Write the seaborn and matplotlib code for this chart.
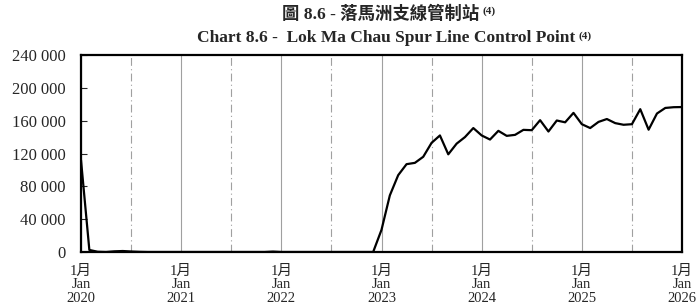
import matplotlib
matplotlib.use("Agg")
import matplotlib.pyplot as plt
import matplotlib.ticker as mticker
import numpy as np
import pandas as pd
import seaborn as sns

# monthly passenger trips, Jan 2020 .. Jan 2026
y2020 = [112000, 2500, 300, 0, 800, 1200, 600, 200, 0, 0, 0, 0]
y2021 = [0, 0, 0, 0, 0, 0, 0, 0, 0, 0, 0, 500]
y2022 = [0, 0, 0, 0, 0, 0, 0, 0, 0, 0, 0, 0]
y2023 = [27000, 69000, 93600, 107000, 108600, 116000, 133000, 142000, 119000, 132000, 140000, 151000]
y2024 = [142000, 137000, 147600, 141500, 142700, 148800, 148400, 160600, 146800, 160200, 158000, 169500]
y2025 = [155700, 151000, 158500, 162000, 157000, 155000, 155700, 174000, 149000, 168700, 175500, 176400]
y2026 = [176600]

years = ["2020", "2021", "2022", "2023", "2024", "2025", "2026"]
tick_labels = ["1月\nJan\n" + y for y in years]

values = y2020 + y2021 + y2022 + y2023 + y2024 + y2025 + y2026
df = pd.DataFrame({"month": np.arange(len(values)), "trips": values})

sns.set_style("white")
plt.rcParams['font.family'] = ['Liberation Serif', 'Noto Sans CJK TC', 'DejaVu Sans']

fig = plt.figure(figsize=(6.99, 3.04), dpi=100)
ax = fig.add_axes([81/699, 1-252/304, (682-81)/699, (252-55)/304])

sns.lineplot(data=df, x="month", y="trips", color="black", linewidth=1.6, ax=ax)

ax.set_xlim(0, 72)
ax.set_ylim(0, 240000)
ax.set_yticks(np.arange(0, 240001, 40000))
ax.yaxis.set_major_formatter(mticker.FuncFormatter(lambda v, p: f"{int(v):,}".replace(",", " ")))
ax.set_xticks(np.arange(0, 73, 12))
ax.set_xticklabels(tick_labels, linespacing=1.05)
ax.xaxis.set_minor_locator(mticker.FixedLocator(np.arange(6, 72, 12)))

ax.grid(True, which="major", axis="x", color="#a0a0a0", linewidth=0.8)
ax.grid(True, which="minor", axis="x", color="#a0a0a0", linewidth=0.8, linestyle=(0, (7, 3, 1, 3)))
ax.set_axisbelow(True)

ax.tick_params(axis="y", direction="in", length=4, width=0.8, labelsize=12, pad=11, left=True)
ax.tick_params(axis="x", which="both", length=0, labelsize=10.5, pad=9)
ax.set_xlabel("")
ax.set_ylabel("")
for s in ax.spines.values():
    s.set_color("black")
    s.set_linewidth(1.6)

t1 = fig.text(381/699, 1-14/304, "圖 8.6 - 落馬洲支線管制站", ha="center", va="center",
              fontsize=12.5, fontweight="bold")
t2 = fig.text(386/699, 1-38/304, "Chart 8.6 -  Lok Ma Chau Spur Line Control Point", ha="center",
              va="center", fontsize=12.5, fontweight="bold")

fig.canvas.draw()
for t in (t1, t2):
    bb = t.get_window_extent()
    fig.text((bb.x1 + 3) / 699, (bb.y1 - 1) / 304, "(4)", ha="left", va="top",
             fontsize=8, fontweight="bold")

fig.savefig("out.png", dpi=100)
